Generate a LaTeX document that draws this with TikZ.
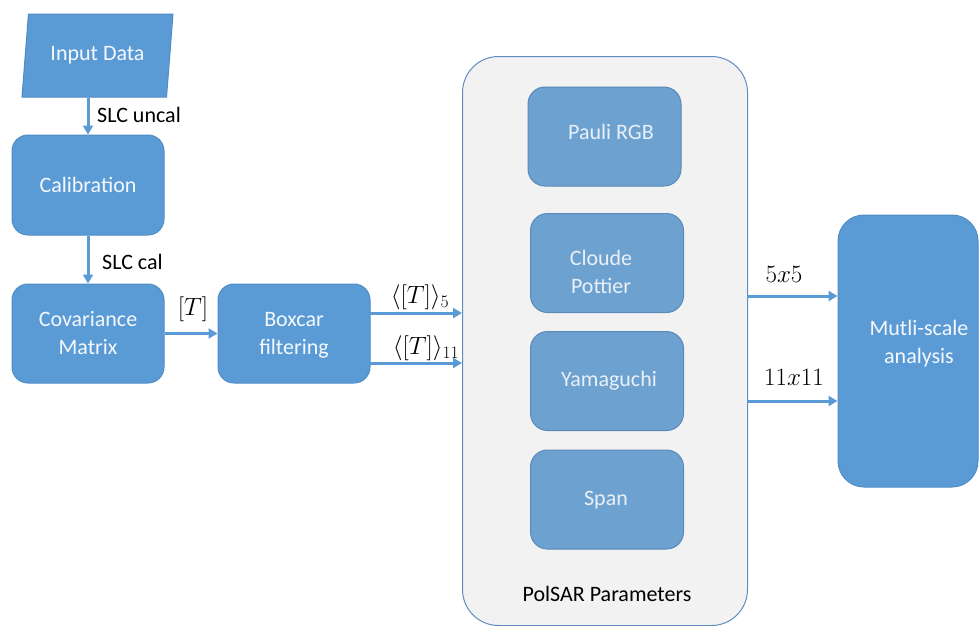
\RequirePackage{fix-cm}
\documentclass[tikz,border=0pt]{standalone}
\usepackage{fontspec}
\setmainfont{Carlito}
\usetikzlibrary{shapes.geometric,arrows.meta}
\definecolor{mainblue}{HTML}{5B9BD5}
\definecolor{mainedge}{HTML}{4F8CC6}
\definecolor{innerblue}{HTML}{6CA1D0}
\definecolor{inneredge}{HTML}{5B89B9}
\definecolor{contfill}{HTML}{F2F2F2}
\definecolor{contedge}{HTML}{5E8EC0}
\definecolor{boxtext}{HTML}{F4F8FC}
\definecolor{innertext}{HTML}{EAF0F7}
\tikzset{
  txt/.style={font=\fontsize{22}{28}\selectfont},
  mainbox/.style={draw=mainedge, line width=1pt, fill=mainblue, rounded corners=16pt,
    text=boxtext, txt, align=center, inner sep=0pt},
  innerbox/.style={draw=inneredge, line width=1pt, fill=innerblue, rounded corners=17pt,
    text=innertext, txt, align=center, inner sep=0pt,
    minimum width=153pt, minimum height=99pt},
  intext/.style={txt, text=innertext, align=center, inner sep=0pt},
  conn/.style={draw=mainblue, line width=3pt, -{Triangle[length=9pt,width=10pt]}},
  lbl/.style={txt, text=black, inner sep=0pt},
  mlbl/.style={font=\fontsize{25}{30}\selectfont, text=black, inner sep=0pt},
}
\begin{document}
\begin{tikzpicture}[x=1pt,y=-1pt]
\useasboundingbox (0,0) rectangle (979,625);
% container
\node[draw=contedge, line width=1pt, fill=contfill, rounded corners=36pt,
  minimum width=285pt, minimum height=569pt, inner sep=0pt] (cont) at (605,341) {};
% left column
\node[trapezium, trapezium left angle=76, trapezium right angle=104, trapezium stretches=true,
  draw=mainedge, line width=1pt, fill=mainblue, text=boxtext, txt, inner sep=0pt,
  minimum width=151pt, minimum height=83pt] (inp) at (97.5,55.5) {Input Data};
\node[mainbox, minimum width=152pt, minimum height=100pt] (cal) at (88,185) {Calibration};
\node[mainbox, minimum width=152pt, minimum height=99pt] (cov) at (88,333.5) {Covariance\\Matrix};
\node[mainbox, minimum width=152pt, minimum height=99pt] (box) at (294,333.5) {};
\node[txt, text=boxtext, align=center, inner sep=0pt] (boxtext) at (294,335) {Boxcar\\filtering};
% inner boxes
\node[innerbox] (pauli) at (604.5,136.5) {};
\node[intext] (paulitext) at (611,132) {Pauli RGB};
\node[innerbox] (cloude) at (607,263) {};
\node[intext] (cloudetext) at (601,272) {Cloude\\Pottier};
\node[innerbox] (yama) at (607,381) {};
\node[intext] (yamatext) at (609,381) {Yamaguchi};
\node[innerbox] (span) at (607,499.5) {};
\node[intext] (spantext) at (606,500) {Span};
\node[lbl] (polsar) at (607,594) {PolSAR Parameters};
% right box
\node[mainbox, rounded corners=26pt, minimum width=140pt, minimum height=272pt] (msa) at (908,351) {};
\node[txt, text=boxtext, align=center, inner sep=0pt] (msatext) at (919,344) {Mutli-scale\\analysis};
% connectors
\draw[conn] (inp.south -| cal.north) -- (cal.north);
\node[lbl, anchor=west] (l1) at (97,115) {SLC uncal};
\draw[conn] (cal.south) -- (cov.north);
\node[lbl, anchor=west] (l2) at (102,262) {SLC cal};
\draw[conn] (cov.east) -- (box.west);
\node[mlbl] (l3) at (193,309) {$[T]$};
\coordinate (b1) at (370,313);
\coordinate (b2) at (370,363);
\draw[conn] (b1) -- (b1 -| cont.west);
\draw[conn] (b2) -- (b2 -| cont.west);
\node[mlbl] (l4) at (420,297) {$\langle[T]\rangle_5$};
\node[mlbl] (l5) at (426,348) {$\langle[T]\rangle_{11}$};
\coordinate (c1) at (747,296);
\coordinate (c2) at (747,401);
\draw[conn] (c1) -- (c1 -| msa.west);
\draw[conn] (c2) -- (c2 -| msa.west);
\node[mlbl] (l6) at (784,274) {$5x5$};
\node[mlbl] (l7) at (794,377) {$11x11$};
\end{tikzpicture}
\end{document}
